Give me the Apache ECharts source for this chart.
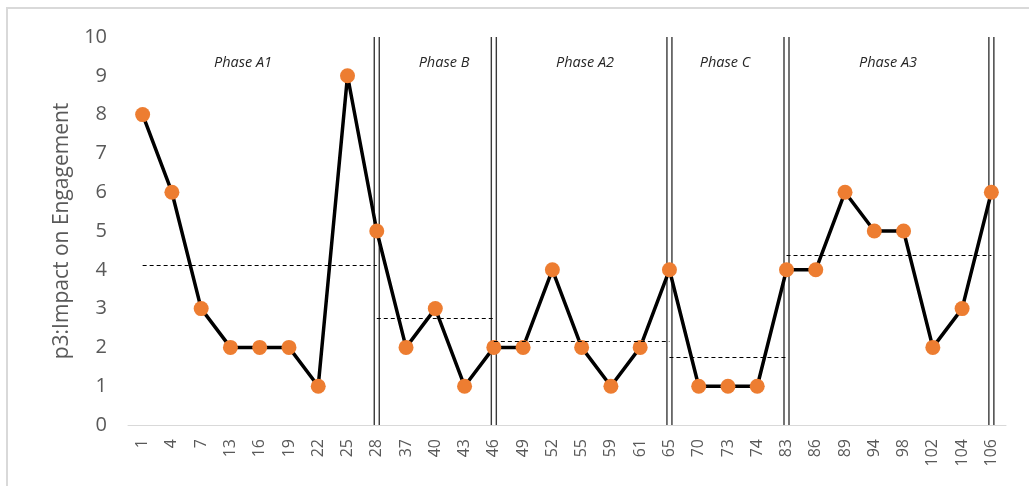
<!DOCTYPE html>
<html>
<head>
<meta charset="utf-8">
<title>p3: Impact on Engagement</title>
<script src="https://cdn.jsdelivr.net/npm/echarts@6/dist/echarts.min.js"></script>
<style>
  html, body { margin: 0; padding: 0; background: #ffffff; }
  #chart { width: 1029px; height: 486px; }
</style>
</head>
<body>
<div id="chart"></div>
<script>
// Session numbers along the x axis
const sessions = ['1','4','7','13','16','19','22','25','28','37','40','43','46','49','52','55','59','61','65','70','73','74','83','86','89','94','98','102','104','106'];
// Engagement score for each session
const scores = [8,6,3,2,2,2,1,9,5,2,3,1,2,2,4,2,1,2,4,1,1,1,4,4,6,5,5,2,3,6];

// Phase information
const phaseNames  = ['Phase A1','Phase B','Phase A2','Phase C','Phase A3'];
const phaseStarts = ['1','28','46','65','83'];
const phaseEnds   = ['28','46','65','83','106'];
const phaseMeans  = [4.125, 2.75, 2.17, 1.75, 4.375];
// Sessions where a phase change line is drawn
const phaseBreaks = ['28','46','65','83','106'];

const yTicks = { min: 0, max: 10, interval: 1 };

const chart = echarts.init(document.getElementById('chart'), null, { renderer: 'canvas' });

// horizontal centres of the phase titles
const labelX = [243, 444, 585, 725, 888];

const option = {
  animation: false,
  backgroundColor: '#ffffff',
  grid: { left: 128, right: 23, top: 37, bottom: 61, containLabel: false },
  xAxis: {
    type: 'category',
    data: sessions,
    boundaryGap: true,
    axisLine: { show: true, lineStyle: { color: '#d9d9d9', width: 1 } },
    axisTick: { show: false },
    axisLabel: {
      rotate: 90,
      interval: 0,
      margin: 14,
      color: '#595959',
      fontFamily: 'Open Sans',
      fontSize: 16
    },
    splitLine: { show: false }
  },
  yAxis: {
    type: 'value',
    min: yTicks.min,
    max: yTicks.max,
    interval: yTicks.interval,
    name: 'p3:Impact on Engagement',
    nameLocation: 'middle',
    nameGap: 55,
    nameRotate: 90,
    nameTextStyle: { color: '#595959', fontFamily: 'Open Sans', fontSize: 21 },
    axisLine: { show: false },
    axisTick: { show: false },
    axisLabel: { color: '#595959', fontFamily: 'Open Sans', fontSize: 20, margin: 21 },
    splitLine: { show: false }
  },
  graphic: [
    {
      type: 'rect',
      shape: { x: 7, y: 8, width: 1100, height: 600 },
      style: { fill: 'none', stroke: '#d9d9d9', lineWidth: 2 },
      silent: true,
      z: -10
    }
  ].concat(phaseNames.map((name, i) => ({
    type: 'text',
    x: labelX[i],
    y: 63,
    style: {
      text: name,
      fill: '#262626',
      font: 'italic 14.5px "Open Sans"',
      textAlign: 'center',
      textVerticalAlign: 'middle'
    },
    silent: true
  }))),
  series: [
    {
      // double vertical lines marking phase changes
      type: 'custom',
      z: 1,
      silent: true,
      data: phaseBreaks.map(s => [sessions.indexOf(s)]),
      encode: { x: 0 },
      renderItem: function (params, api) {
        const top = api.coord([api.value(0), yTicks.max]);
        const bottom = api.coord([api.value(0), yTicks.min]);
        const style = { stroke: '#3a3a3a', lineWidth: 1.4 };
        return {
          type: 'group',
          children: [-2.5, 2.5].map(d => ({
            type: 'line',
            shape: { x1: top[0] + d, y1: top[1], x2: bottom[0] + d, y2: bottom[1] },
            style: style
          }))
        };
      }
    },
    {
      // phase mean lines
      type: 'line',
      z: 2,
      data: [],
      markLine: {
        silent: true,
        symbol: ['none', 'none'],
        label: { show: false },
        lineStyle: { color: '#000000', type: [4, 3], width: 1 },
        data: phaseMeans.map((m, i) => [
          { coord: [sessions.indexOf(phaseStarts[i]), m] },
          { coord: [sessions.indexOf(phaseEnds[i]), m] }
        ])
      }
    },
    {
      type: 'line',
      z: 3,
      data: scores,
      symbol: 'circle',
      symbolSize: 15,
      lineStyle: { color: '#000000', width: 3.5 },
      itemStyle: { color: '#ED7D31', borderWidth: 0 }
    }
  ]
};

chart.setOption(option);
</script>
</body>
</html>
